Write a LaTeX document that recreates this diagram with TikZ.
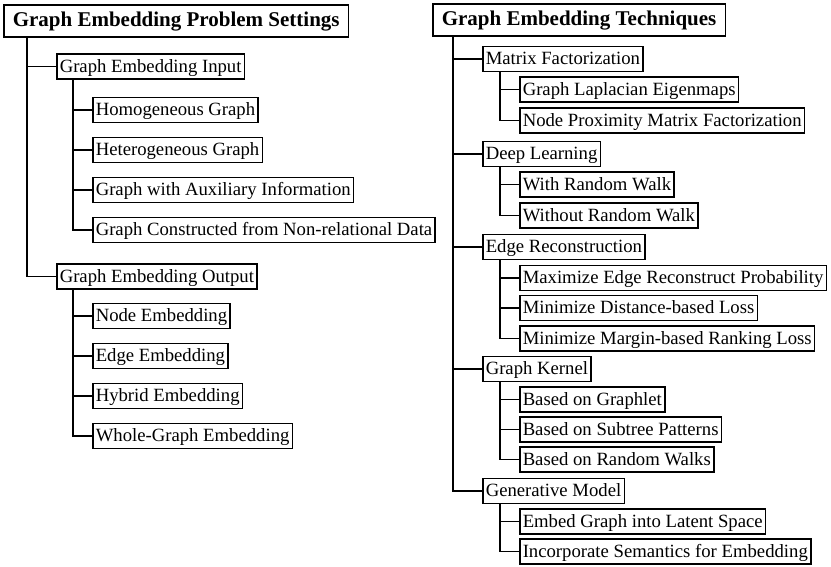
\documentclass[tikz,border=0pt]{standalone}
\usepackage{fontspec}
\setmainfont{Liberation Serif}
\begin{document}
\begin{tikzpicture}[x=1pt,y=-1pt,
  box/.style={draw,line width=1.5pt,anchor=west,inner xsep=3pt,inner ysep=3.5pt,
    text height=14.5pt,text depth=3.5pt,font=\fontsize{18.7}{22}\selectfont},
  titlebox/.style={draw,line width=1.5pt,anchor=west,inner xsep=9pt,inner ysep=5.5pt,
    text height=16pt,text depth=5pt,font=\fontsize{21}{25}\selectfont\bfseries},
  link/.style={line width=1.5pt}]
\useasboundingbox (0,0) rectangle (831,566);
% ---------- left tree ----------
\node[titlebox] (t1) at (3,21) {Graph Embedding Problem Settings};
\node[box] (in) at (56,66.5) {Graph Embedding Input};
\node[box] (a1) at (92,110) {Homogeneous Graph};
\node[box] (a2) at (92,150) {Heterogeneous Graph};
\node[box] (a3) at (92,190) {Graph with Auxiliary Information};
\node[box] (a4) at (92,230) {Graph Constructed from Non-relational Data};
\node[box] (out) at (56,276.5) {Graph Embedding Output};
\node[box] (b1) at (92,316) {Node Embedding};
\node[box] (b2) at (92,356) {Edge Embedding};
\node[box] (b3) at (92,396) {Hybrid Embedding};
\node[box] (b4) at (92,436) {Whole-Graph Embedding};
\draw[link] ([xshift=24pt]t1.south west) |- (in.west);
\draw[link] ([xshift=24pt]t1.south west) |- (out.west);
\foreach \c in {a1,a2,a3,a4} \draw[link] ([xshift=17pt]in.south west) |- (\c.west);
\foreach \c in {b1,b2,b3,b4} \draw[link] ([xshift=17pt]out.south west) |- (\c.west);
% ---------- right tree ----------
\node[titlebox] (t2) at (432,20) {Graph Embedding Techniques};
\node[box] (mf) at (482,59) {Matrix Factorization};
\node[box] (m1) at (519,89.5) {Graph Laplacian Eigenmaps};
\node[box] (m2) at (519,120.5) {Node Proximity Matrix Factorization};
\node[box] (dl) at (482,154) {Deep Learning};
\node[box] (d1) at (519,184.5) {With Random Walk};
\node[box] (d2) at (519,215.5) {Without Random Walk};
\node[box] (er) at (482,247) {Edge Reconstruction};
\node[box] (e1) at (519,278) {Maximize Edge Reconstruct Probability};
\node[box] (e2) at (519,308) {Minimize Distance-based Loss};
\node[box] (e3) at (519,338.5) {Minimize Margin-based Ranking Loss};
\node[box] (gk) at (482,369) {Graph Kernel};
\node[box] (k1) at (519,399.5) {Based on Graphlet};
\node[box] (k2) at (519,429.5) {Based on Subtree Patterns};
\node[box] (k3) at (519,459.5) {Based on Random Walks};
\node[box] (gm) at (482,491) {Generative Model};
\node[box] (g1) at (519,521.5) {Embed Graph into Latent Space};
\node[box] (g2) at (519,551.5) {Incorporate Semantics for Embedding};
\foreach \c in {mf,dl,er,gk,gm} \draw[link] ([xshift=21pt]t2.south west) |- (\c.west);
\foreach \c in {m1,m2} \draw[link] ([xshift=18pt]mf.south west) |- (\c.west);
\foreach \c in {d1,d2} \draw[link] ([xshift=18pt]dl.south west) |- (\c.west);
\foreach \c in {e1,e2,e3} \draw[link] ([xshift=18pt]er.south west) |- (\c.west);
\foreach \c in {k1,k2,k3} \draw[link] ([xshift=18pt]gk.south west) |- (\c.west);
\foreach \c in {g1,g2} \draw[link] ([xshift=18pt]gm.south west) |- (\c.west);
\end{tikzpicture}
\end{document}
